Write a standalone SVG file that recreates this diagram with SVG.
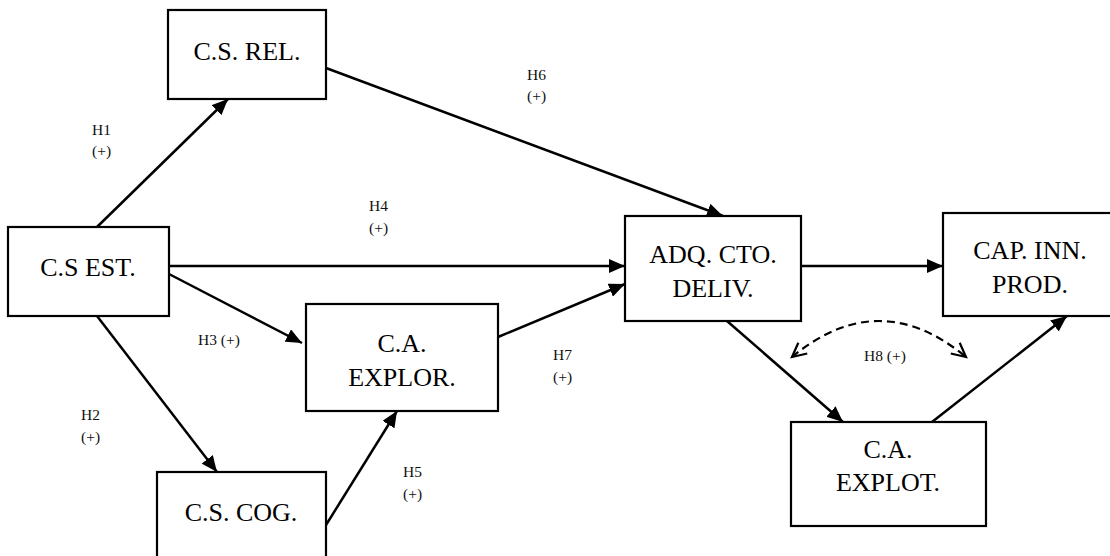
<svg xmlns="http://www.w3.org/2000/svg" width="1110" height="556" viewBox="0 0 1110 556">
  <style>
    .box { fill: #ffffff; stroke: #000000; stroke-width: 2.2; }
    .lbl { font-family: 'Liberation Serif', 'Times New Roman', Times, 'DejaVu Serif', serif; font-size: 26px; fill: #000000; text-anchor: middle; }
    .hyp { font-family: 'Liberation Serif', 'Times New Roman', Times, 'DejaVu Serif', serif; font-size: 15.5px; fill: #111111; }
    .edge { stroke: #000000; stroke-width: 2.5; fill: none; marker-end: url(#head); }
    .dash { stroke: #000000; stroke-width: 2.2; fill: none; stroke-dasharray: 8 5; marker-start: url(#open); marker-end: url(#open); }
  </style>
  <defs>
    <marker id="head" markerUnits="userSpaceOnUse" markerWidth="18" markerHeight="14" refX="16" refY="7" orient="auto">
      <path d="M0,0 L16,7 L0,14 z" fill="#000000"/>
    </marker>
    <marker id="open" markerUnits="userSpaceOnUse" markerWidth="20" markerHeight="20" refX="15" refY="8" orient="auto-start-reverse">
      <path d="M1,1 L15,8 L1,15" fill="none" stroke="#000000" stroke-width="2.2"/>
    </marker>
  </defs>

  <rect width="1110" height="556" fill="#ffffff"/>

  <!-- connectors -->
  <g id="connectors">
    <line class="edge" x1="97" y1="227" x2="228" y2="99"/>
    <line class="edge" x1="97" y1="316" x2="217" y2="472"/>
    <line class="edge" x1="169" y1="274" x2="302" y2="343"/>
    <line class="edge" x1="169" y1="266" x2="625" y2="266"/>
    <line class="edge" x1="326" y1="525" x2="397" y2="411"/>
    <line class="edge" x1="326" y1="68" x2="723" y2="216"/>
    <line class="edge" x1="498" y1="337" x2="625" y2="284"/>
    <line class="edge" x1="801" y1="266" x2="943" y2="266"/>
    <line class="edge" x1="727" y1="321" x2="843" y2="422"/>
    <line class="edge" x1="932" y1="422" x2="1067" y2="316"/>
    <path class="dash" d="M792,357 Q879,285 966,357"/>
  </g>

  <!-- hypothesis labels -->
  <g id="labels">
    <text class="hyp" x="92" y="135">H1</text>
    <text class="hyp" x="92" y="156">(+)</text>
    <text class="hyp" x="81" y="420">H2</text>
    <text class="hyp" x="81" y="442">(+)</text>
    <text class="hyp" x="198" y="345">H3 (+)</text>
    <text class="hyp" x="369" y="211">H4</text>
    <text class="hyp" x="369" y="233">(+)</text>
    <text class="hyp" x="403" y="477">H5</text>
    <text class="hyp" x="403" y="499">(+)</text>
    <text class="hyp" x="527" y="80">H6</text>
    <text class="hyp" x="527" y="101">(+)</text>
    <text class="hyp" x="553" y="360">H7</text>
    <text class="hyp" x="553" y="382">(+)</text>
    <text class="hyp" x="864" y="361">H8 (+)</text>
  </g>

  <!-- nodes -->
  <g id="cs-rel">
    <rect class="box" x="168" y="10" width="158" height="89"/>
    <text class="lbl" x="247" y="60">C.S. REL.</text>
  </g>
  <g id="cs-est">
    <rect class="box" x="8" y="227" width="161" height="89"/>
    <text class="lbl" x="88" y="276">C.S EST.</text>
  </g>
  <g id="cs-cog">
    <rect class="box" x="157" y="472" width="169" height="100"/>
    <text class="lbl" x="241" y="521">C.S. COG.</text>
  </g>
  <g id="ca-explor">
    <rect class="box" x="306" y="304" width="192" height="107"/>
    <text class="lbl" x="402" y="352">C.A.</text>
    <text class="lbl" x="402" y="386">EXPLOR.</text>
  </g>
  <g id="adq-cto">
    <rect class="box" x="625" y="216" width="176" height="105"/>
    <text class="lbl" x="713" y="263">ADQ. CTO.</text>
    <text class="lbl" x="713" y="297">DELIV.</text>
  </g>
  <g id="cap-inn">
    <rect class="box" x="943" y="213" width="170" height="103"/>
    <text class="lbl" x="1030" y="259">CAP. INN.</text>
    <text class="lbl" x="1030" y="293">PROD.</text>
  </g>
  <g id="ca-explot">
    <rect class="box" x="791" y="422" width="195" height="104"/>
    <text class="lbl" x="888" y="458">C.A.</text>
    <text class="lbl" x="888" y="491">EXPLOT.</text>
  </g>
</svg>
